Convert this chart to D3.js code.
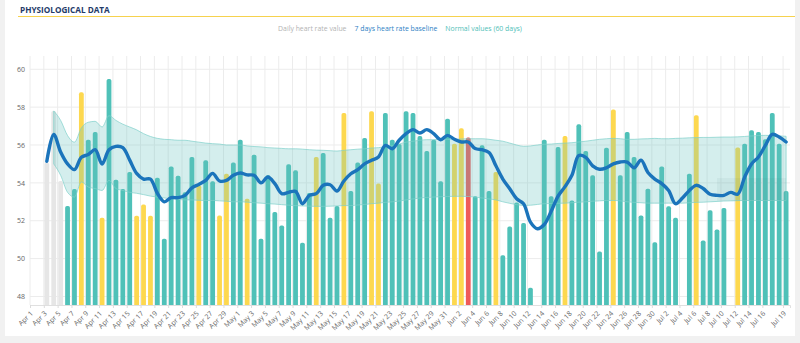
<!DOCTYPE html>
<html>
<head>
<meta charset="utf-8">
<script src="https://cdn.jsdelivr.net/npm/d3@7"></script>
<style>
body { margin: 0; background: #f1f1f1; font-family: "Open Sans", sans-serif; }
</style>
</head>
<body>
<div id="chart"></div>
<script>
// ---------------------------------------------------------------
// data (one entry per day, starting Apr 1)
// ---------------------------------------------------------------
var startDay = "2019-04-01";

var heartRate = [null, null, 55.06, 57.8, 54.1, 52.78, 53.67, 58.78, 56.28, 56.69,
	52.16, 59.49, 54.17, 53.67, 54.57, 52.26, 52.86, 52.26, 54.27, 51.05,
	54.87, 54.38, 53.5, 55.37, 53.87, 55.19, 54.08, 52.28, 54.48, 55.07,
	56.28, 53.16, 55.49, 51.05, 54.4, 52.46, 51.75, 54.98, 54.66, 50.84,
	53.46, 55.37, 55.58, 52.16, 52.78, 57.69, 53.57, 55.07, 56.37, 57.78,
	53.96, 57.69, 56.28, 56.05, 57.78, 57.69, 56.47, 55.68, 56.28, 54.08,
	57.39, 56.07, 56.88, 56.39, 53.29, 55.98, 53.57, 54.57, 50.18, 51.69,
	52.96, 51.88, 48.46, null, 56.28, 53.29, 55.89, 56.48, 53.07, 57.09,
	55.68, 54.4, 50.38, 55.86, 57.87, 54.4, 56.69, 55.37, 52.28, 53.69,
	50.87, 54.87, 52.76, 52.16, null, 54.48, 57.57, 50.96, 52.55, 51.54,
	52.67, null, 55.87, 56.07, 56.78, 56.69, 56.3, 57.69, 56.07, 53.57];

// g = not enough history, t = normal, y = outside normal, r = alert
var dayFlag = [null, null, "g", "g", "g", "t", "t", "y", "t", "t",
	"y", "t", "t", "t", "t", "y", "y", "y", "t", "t",
	"t", "t", "t", "t", "y", "t", "t", "y", "y", "t",
	"t", "y", "t", "t", "t", "t", "t", "t", "t", "t",
	"t", "y", "t", "t", "t", "y", "t", "t", "t", "y",
	"y", "t", "t", "t", "t", "t", "t", "t", "t", "t",
	"t", "y", "y", "r", "t", "t", "t", "y", "t", "t",
	"t", "t", "t", null, "t", "t", "t", "y", "t", "t",
	"t", "t", "t", "t", "y", "t", "t", "t", "t", "t",
	"t", "t", "t", "t", null, "t", "y", "t", "t", "t",
	"t", null, "y", "t", "t", "t", "t", "t", "t", "t"];

var baseline = [null, null, 55.14, 56.56, 55.63, 55.0, 54.7, 55.35, 55.5, 55.75,
	55.0, 55.75, 55.93, 55.86, 55.2, 54.5, 54.2, 54.2, 53.45, 53.0,
	53.22, 53.22, 53.34, 53.74, 53.92, 54.13, 54.5, 54.1, 54.13, 54.4,
	54.52, 54.42, 54.4, 54.0, 54.31, 53.96, 53.43, 53.5, 53.55, 52.9,
	53.34, 53.43, 53.87, 53.9, 53.57, 54.1, 54.48, 54.7, 55.0, 55.19,
	55.37, 55.98, 55.8, 56.25, 56.6, 56.81, 56.63, 56.81, 56.6, 56.28,
	56.51, 56.3, 56.16, 56.16, 55.81, 55.75, 55.6, 54.9, 54.2, 53.69,
	53.16, 52.9, 51.93, 51.58, 51.8, 52.5, 53.3, 53.8, 54.4, 55.45,
	55.35, 54.9, 54.72, 54.8, 55.0, 55.1, 55.1, 54.8, 55.2, 54.55,
	54.2, 53.96, 53.6, 52.9, 53.2, 53.6, 53.87, 53.7, 53.4, 53.34,
	53.34, 53.5, 53.4, 54.3, 55.0, 55.37, 55.98, 56.56, 56.42, 56.16];

var normalUpper = [null, null, null, 57.8, 57.3, 56.5, 56.15, 56.9, 57.2, 57.25,
	56.95, 57.55, 57.3, 57.1, 56.95, 56.8, 56.6, 56.45, 56.35, 56.3,
	56.28, 56.25, 56.25, 56.2, 56.15, 56.1, 56.07, 56.05, 56.0, 56.0,
	56.0, 55.95, 55.92, 55.9, 55.86, 55.84, 55.82, 55.8, 55.8, 55.78,
	55.75, 55.73, 55.72, 55.7, 55.68, 55.72, 55.75, 55.78, 55.8, 55.84,
	55.86, 55.92, 55.96, 56.05, 56.15, 56.2, 56.25, 56.28, 56.28, 56.3,
	56.3, 56.3, 56.32, 56.33, 56.33, 56.33, 56.3, 56.25, 56.2, 56.1,
	56.0, 55.93, 55.95, 56.0, 56.04, 56.05, 56.08, 56.1, 56.12, 56.16,
	56.2, 56.25, 56.3, 56.33, 56.35, 56.33, 56.3, 56.3, 56.32, 56.33,
	56.35, 56.33, 56.33, 56.35, 56.36, 56.38, 56.39, 56.4, 56.4, 56.41,
	56.42, 56.42, 56.43, 56.45, 56.48, 56.5, 56.51, 56.5, 56.48, 56.46];

var normalLower = [null, null, null, 55.0, 54.4, 53.5, 53.25, 54.05, 53.78, 53.7,
	53.6, 54.13, 53.7, 53.6, 53.5, 53.45, 53.38, 53.3, 53.25, 53.2,
	53.17, 53.13, 53.1, 53.1, 53.08, 53.07, 53.07, 53.05, 53.03, 53.0,
	53.0, 52.98, 52.95, 52.93, 52.9, 52.88, 52.85, 52.82, 52.8, 52.78,
	52.77, 52.76, 52.76, 52.77, 52.78, 52.8, 52.8, 52.83, 52.86, 52.9,
	52.93, 52.97, 53.0, 53.04, 53.1, 53.15, 53.2, 53.23, 53.25, 53.27,
	53.28, 53.29, 53.29, 53.28, 53.25, 53.2, 53.15, 53.1, 53.0, 52.92,
	52.85, 52.81, 52.82, 52.86, 52.9, 52.91, 52.92, 52.93, 52.95, 52.98,
	53.0, 53.03, 53.05, 53.07, 53.07, 53.05, 53.0, 52.97, 52.95, 52.93,
	52.93, 52.93, 52.93, 52.93, 52.93, 52.95, 52.97, 52.98, 53.0, 53.02,
	53.04, 53.05, 53.06, 53.07, 53.07, 53.07, 53.07, 53.07, 53.07, 53.07];

// darker zone at the end of the chart (day index range, value range)
var shadeDays = [99, 109];
var shadeValues = [53.05, 54.25];

var yTicks = [48, 50, 52, 54, 56, 58, 60];

var xTickLabels = ["Apr 1", "Apr 3", "Apr 5", "Apr 7", "Apr 9", "Apr 11", "Apr 13", "Apr 15",
	"Apr 17", "Apr 19", "Apr 21", "Apr 23", "Apr 25", "Apr 27", "Apr 29",
	"May 1", "May 3", "May 5", "May 7", "May 9", "May 11", "May 13", "May 15",
	"May 17", "May 19", "May 21", "May 23", "May 25", "May 27", "May 29", "May 31",
	"Jun 2", "Jun 4", "Jun 6", "Jun 8", "Jun 10", "Jun 12", "Jun 14", "Jun 16",
	"Jun 18", "Jun 20", "Jun 22", "Jun 24", "Jun 26", "Jun 28", "Jun 30",
	"Jul 2", "Jul 4", "Jul 6", "Jul 8", "Jul 10", "Jul 12", "Jul 14", "Jul 16", "Jul 19"];

var legendLabels = ["Daily heart rate value", "7 days heart rate baseline", "Normal values (60 days)"];
var legendColors = ["#b3b3b3", "#2d80c4", "#4fc0b7"];

var barColors = { g: "#e6e6e6", t: "#4fc1b8", y: "#fdd84f", r: "#ef5a5a" };

// ---------------------------------------------------------------
// setup
// ---------------------------------------------------------------
var width = 800, height = 343;
var plot = { left: 30, right: 790, top: 56, bottom: 305 };

var parseDay = d3.timeParse("%Y-%m-%d");
var parseTick = d3.timeParse("%b %d %Y");
var day0 = parseDay(startDay);
function dayDate(i) { return d3.timeDay.offset(day0, i); }

var x = d3.scaleTime()
	.domain([day0, dayDate(heartRate.length)])
	.range([plot.left, plot.right]);

var y = d3.scaleLinear()
	.domain([47.55, 60.7])
	.range([plot.bottom, plot.top]);

var barPad = 0.6, barW = 4.8;
function cx(i) { return x(dayDate(i)) + barPad + barW / 2; }

var tickDates = xTickLabels.map(function (s) { return parseTick(s + " 2019"); });

var svg = d3.select("#chart").append("svg")
	.attr("width", width)
	.attr("height", height);

// card
svg.append("rect")
	.attr("x", 5).attr("y", 0)
	.attr("width", 790).attr("height", 336)
	.attr("fill", "#ffffff");

// title
svg.append("text")
	.attr("x", 20).attr("y", 13)
	.attr("font-size", 8.2)
	.attr("font-weight", "bold")
	.attr("fill", "#233a68")
	.text("PHYSIOLOGICAL DATA");

svg.append("line")
	.attr("x1", 18).attr("x2", 795)
	.attr("y1", 16.5).attr("y2", 16.5)
	.attr("stroke", "#f6d24e")
	.attr("stroke-width", 1.2);

// legend, centred
var legend = svg.append("g").attr("class", "legend");
var lx = 0;
legendLabels.forEach(function (lab, i) {
	var t = legend.append("text")
		.attr("x", lx).attr("y", 31)
		.attr("font-size", 6.9)
		.attr("fill", legendColors[i])
		.text(lab);
	lx += t.node().getComputedTextLength() + 8;
});
legend.attr("transform", "translate(" + (400 - (lx - 8) / 2) + ",0)");

// ---------------------------------------------------------------
// grid
// ---------------------------------------------------------------
svg.append("g")
	.attr("class", "ygrid")
	.selectAll("line")
	.data(yTicks)
	.enter().append("line")
	.attr("x1", plot.left).attr("x2", plot.right)
	.attr("y1", function (d) { return y(d); })
	.attr("y2", function (d) { return y(d); })
	.attr("stroke", "#ececec");

svg.append("g")
	.attr("class", "xgrid")
	.selectAll("line")
	.data(tickDates)
	.enter().append("line")
	.attr("x1", function (d) { return x(d); })
	.attr("x2", function (d) { return x(d); })
	.attr("y1", plot.top).attr("y2", plot.bottom)
	.attr("stroke", "#ececec");

// ---------------------------------------------------------------
// bars
// ---------------------------------------------------------------
var barData = heartRate.map(function (v, i) { return { i: i, v: v, f: dayFlag[i] }; })
	.filter(function (d) { return d.v != null; });

function barPath(d) {
	var x0 = x(dayDate(d.i)) + barPad, x1 = x0 + barW;
	var top = y(d.v), bot = y.range()[0], r = 1.8;
	return "M" + x0 + "," + bot + "V" + (top + r) +
		"Q" + x0 + "," + top + " " + (x0 + r) + "," + top +
		"H" + (x1 - r) +
		"Q" + x1 + "," + top + " " + x1 + "," + (top + r) +
		"V" + bot + "Z";
}

svg.append("g")
	.attr("class", "bars")
	.selectAll("path")
	.data(barData)
	.enter().append("path")
	.attr("d", barPath)
	.attr("fill", function (d) { return barColors[d.f]; });

// ---------------------------------------------------------------
// normal range band
// ---------------------------------------------------------------
var bandData = normalUpper.map(function (u, i) { return { i: i, u: u, l: normalLower[i] }; })
	.filter(function (d) { return d.u != null; });

var area = d3.area()
	.x(function (d) { return cx(d.i); })
	.y0(function (d) { return y(d.l); })
	.y1(function (d) { return y(d.u); })
	.curve(d3.curveMonotoneX);

svg.append("path")
	.datum(bandData)
	.attr("d", area)
	.attr("fill", "#63c3bd")
	.attr("fill-opacity", 0.28)
	.attr("stroke", "#7fd0ca")
	.attr("stroke-opacity", 0.7)
	.attr("stroke-width", 1);

svg.append("rect")
	.attr("x", cx(shadeDays[0]))
	.attr("width", cx(shadeDays[1]) - cx(shadeDays[0]))
	.attr("y", y(shadeValues[1]))
	.attr("height", y(shadeValues[0]) - y(shadeValues[1]))
	.attr("fill", "#2e6e69")
	.attr("fill-opacity", 0.06);

// ---------------------------------------------------------------
// 7 day baseline
// ---------------------------------------------------------------
var line = d3.line()
	.defined(function (d) { return d != null; })
	.x(function (d, i) { return cx(i); })
	.y(function (d) { return y(d); })
	.curve(d3.curveCatmullRom.alpha(0.5));

svg.append("path")
	.datum(baseline)
	.attr("d", line)
	.attr("fill", "none")
	.attr("stroke", "#1b74bb")
	.attr("stroke-width", 3.4)
	.attr("stroke-linejoin", "round")
	.attr("stroke-linecap", "round");

// ---------------------------------------------------------------
// axes
// ---------------------------------------------------------------
var yAxis = svg.append("g")
	.attr("transform", "translate(" + (plot.left - 4) + ",0)")
	.call(d3.axisLeft(y).tickValues(yTicks).tickSize(0).tickPadding(1));
yAxis.select(".domain").remove();
yAxis.selectAll("text")
	.attr("font-size", 7)
	.attr("font-family", "Open Sans, sans-serif")
	.attr("fill", "#666");

var xAxis = svg.append("g")
	.attr("transform", "translate(0," + plot.bottom + ")")
	.call(d3.axisBottom(x).tickValues(tickDates).tickFormat(d3.timeFormat("%b %-d")).tickSize(3));
xAxis.select(".domain").attr("stroke", "#e0e0e0");
xAxis.selectAll(".tick line").attr("stroke", "#dcdcdc");
xAxis.selectAll("text")
	.attr("font-size", 7)
	.attr("font-family", "Open Sans, sans-serif")
	.attr("fill", "#666")
	.attr("text-anchor", "end")
	.attr("y", 0).attr("dy", 0)
	.attr("transform", "translate(3,9) rotate(-45)");
</script>
</body>
</html>
